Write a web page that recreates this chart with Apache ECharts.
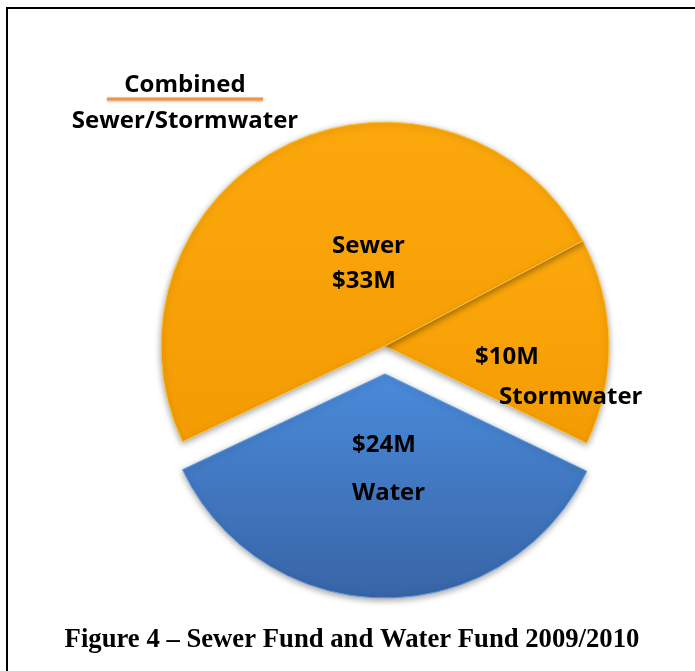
<!DOCTYPE html>
<html>
<head>
<meta charset="utf-8">
<script src="https://cdn.jsdelivr.net/npm/echarts@6/dist/echarts.min.js"></script>
<style>
  html, body { margin: 0; padding: 0; background: #ffffff; }
  #chart { width: 695px; height: 671px; }
</style>
</head>
<body>
<div id="chart"></div>
<script>
// ---- data ----
const categories = ['Stormwater', 'Water', 'Sewer'];
const values = [10, 24, 33];
const valueLabels = ['$10M', '$24M', '$33M'];
const explodedCategory = 'Water';
const captionText = 'Figure 4 \u2013 Sewer Fund and Water Fund 2009/2010';
const legendTitle = 'Combined';
const legendSub = 'Sewer/Stormwater';

// ---- styles / layout ----
const orangeFill = new echarts.graphic.LinearGradient(0, 0, 0, 1, [
  { offset: 0, color: '#FCA80C' },
  { offset: 1, color: '#F39C02' }
]);
const blueFill = new echarts.graphic.LinearGradient(0, 0, 0, 1, [
  { offset: 0, color: '#4A8BDA' },
  { offset: 1, color: '#3864A6' }
]);
const sliceStyles = [
  { color: orangeFill, borderColor: '#FDC54A' },
  { color: blueFill, borderColor: '#5E9BE2' },
  { color: orangeFill, borderColor: '#FDC54A' }
];
const labelAnchors = [[475, 377], [352, 469], [332, 264]];
const lineHeights = [40, 48, 35];
const labelFont = '"Open Sans"';
const pieCenter = [385, 346];
const pieRadius = 224;
const explodeOffset = 28;

const chart = echarts.init(document.getElementById('chart'), null, { renderer: 'canvas' });

function buildData(exploded) {
  return categories.map(function (name, i) {
    const visible = (name === explodedCategory) === exploded;
    const item = { name: name, value: values[i] };
    if (!visible) {
      item.itemStyle = { color: 'rgba(0,0,0,0)', borderWidth: 0, shadowBlur: 0, shadowColor: 'rgba(0,0,0,0)' };
      item.label = { show: false };
      return item;
    }
    item.itemStyle = Object.assign({
      borderWidth: 1,
      shadowBlur: 6,
      shadowColor: 'rgba(0,0,0,0.35)',
      shadowOffsetY: 2
    }, sliceStyles[i]);
    item.label = {
      show: true,
      rich: {
        a: { fontFamily: labelFont, fontWeight: 'bold', fontSize: 24, color: '#000', lineHeight: lineHeights[i], align: 'left' },
        b: { fontFamily: labelFont, fontWeight: 'bold', fontSize: 24, color: '#000', lineHeight: lineHeights[i], align: 'left', padding: [0, 0, 0, 24] }
      }
    };
    return item;
  });
}

function labelFormatter(p) {
  const v = valueLabels[p.dataIndex];
  if (p.name === 'Stormwater') return '{a|' + v + '}\n{b|' + p.name + '}';
  if (p.name === 'Water') return '{a|' + v + '}\n{a|' + p.name + '}';
  return '{a|' + p.name + '}\n{a|' + v + '}';
}

function pieSeries(exploded) {
  return {
    type: 'pie',
    center: exploded ? [pieCenter[0], pieCenter[1] + explodeOffset] : pieCenter,
    radius: [0, pieRadius],
    startAngle: 28,
    clockwise: true,
    avoidLabelOverlap: false,
    silent: true,
    label: { show: true, position: 'inside', formatter: labelFormatter },
    labelLine: { show: false },
    labelLayout: function (p) {
      const a = labelAnchors[p.dataIndex];
      return { x: a[0], y: a[1], align: 'left', verticalAlign: 'middle' };
    },
    emphasis: { disabled: true },
    data: buildData(exploded)
  };
}

chart.setOption({
  backgroundColor: '#ffffff',
  animation: false,
  series: [pieSeries(false), pieSeries(true)],
  graphic: [
    {
      type: 'polyline',
      shape: { points: [[7, 671], [7, 8], [695, 8]] },
      style: { stroke: '#000', lineWidth: 2, fill: null }
    },
    {
      type: 'text',
      x: 185, y: 85,
      style: { text: legendTitle, font: 'bold 24px "Open Sans"', fill: '#000', align: 'center', verticalAlign: 'middle' }
    },
    {
      type: 'line',
      shape: { x1: 107, y1: 99, x2: 263, y2: 99 },
      style: { stroke: '#F7923A', lineWidth: 3, shadowBlur: 3, shadowColor: 'rgba(0,0,0,0.3)', shadowOffsetY: 1 }
    },
    {
      type: 'text',
      x: 185, y: 121,
      style: { text: legendSub, font: 'bold 24px "Open Sans"', fill: '#000', align: 'center', verticalAlign: 'middle' }
    },
    {
      type: 'text',
      x: 352, y: 640,
      style: { text: captionText, font: 'bold 26.7px "Liberation Serif"', fill: '#000', align: 'center', verticalAlign: 'middle' }
    }
  ]
});
</script>
</body>
</html>
